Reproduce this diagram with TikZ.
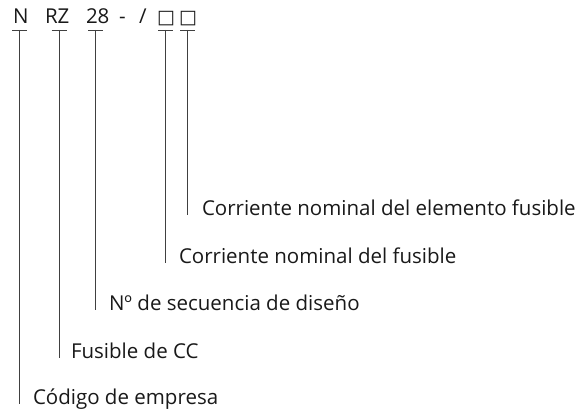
\documentclass[tikz,border=0pt]{standalone}
\usepackage{fontspec}
\setmainfont{Open Sans}
\newfontfamily\symfont{DejaVu Sans}
\begin{document}
\begin{tikzpicture}[x=1pt,y=-1pt,
  every node/.style={inner sep=0pt, outer sep=0pt, text=black!90, font=\fontsize{20.5}{22}\selectfont},
  code/.style={anchor=base west},
  lab/.style={anchor=base west},
  lead/.style={draw=black!75, line width=0.9pt},
  bar/.style={draw=black!75, line width=0.9pt}]
\useasboundingbox (0,0) rectangle (583,412);
% code string
\node[code] (cN)  at (13,24) {N};
\node[code] (cRZ) at (45,24) {RZ};
\node[code] (c28) at (86,24) {28};
\node[code] (cdash) at (119,24) {-};
\node[code] (cslash) at (139,24) {/};
\node[code] (cb1) at (157,24) {\symfont\fontsize{19}{22}\selectfont □};
\node[code] (cb2) at (179,24) {\symfont\fontsize{19}{22}\selectfont □};
% tick tops
\coordinate (t1) at (19.5,30);
\coordinate (t2) at (59,30);
\coordinate (t3) at (95.5,30);
\coordinate (t4) at (165.5,30);
\coordinate (t5) at (187.5,30);
% ends
\coordinate (e1) at (19.5,404);
\coordinate (e2) at (59,358);
\coordinate (e3) at (95.5,310);
\coordinate (e4) at (165.5,263);
\coordinate (e5) at (187.5,215);
% labels
\node[lab] (l1) at (33,404) {Código de empresa};
\node[lab] (l2) at (71,358) {Fusible de CC};
\node[lab] (l3) at (109,310) {Nº de secuencia de diseño};
\node[lab] (l4) at (179,263) {Corriente nominal del fusible};
\node[lab] (l5) at (202,215) {Corriente nominal del elemento fusible};
% bars and leads
\foreach \i in {1,...,5}{
  \draw[bar] ([xshift=-7.5pt]t\i) -- ([xshift=7.5pt]t\i);
  \draw[lead] (t\i) -- (e\i);
}
\end{tikzpicture}
\end{document}
